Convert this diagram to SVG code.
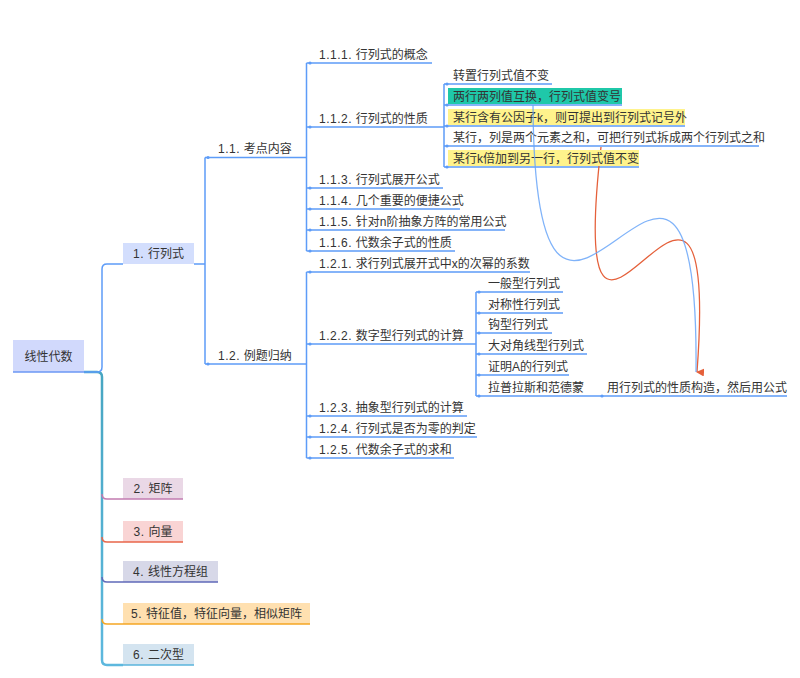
<svg xmlns="http://www.w3.org/2000/svg" width="800" height="678" viewBox="0 0 800 678">
<defs>
<style>
text{font-family:"Liberation Sans","Noto Sans CJK SC",sans-serif;font-size:12px;fill:#333;}
.n{letter-spacing:0.5px;}
.b{fill:none;stroke:#5d9cf8;stroke-width:1.5;}
.m{fill:#5d9cf8;}
.c{text-anchor:middle;}
</style>
<linearGradient id="trunk" x1="0" y1="0" x2="0" y2="1">
<stop offset="0" stop-color="#47a6c2"/>
<stop offset="1" stop-color="#5db8de"/>
</linearGradient>
<marker id="arrO" markerWidth="8" markerHeight="8" refX="4" refY="7" orient="auto" markerUnits="userSpaceOnUse" viewBox="0 0 8 8">
<path d="M0,0 L8,0 L4,8 Z" fill="#e5603a"/>
</marker>
</defs>
<rect width="800" height="678" fill="#fff"/>

<g id="connectors">
<path d="M84,372 H97 Q102,372 102,377 V660 Q102,665 107,665 H123" fill="none" stroke="url(#trunk)" stroke-width="2.5"/>
<path d="M102,494 Q102,499 107,499 H123" fill="none" stroke="#c27bb0" stroke-width="1.5"/>
<path d="M102,537 Q102,542 107,542 H123" fill="none" stroke="#e8664a" stroke-width="1.5"/>
<path d="M102,577 Q102,582 107,582 H123" fill="none" stroke="#5f69b9" stroke-width="1.5"/>
<path d="M102,619 Q102,624 107,624 H123" fill="none" stroke="#f5a623" stroke-width="1.5"/>
<path d="M84,372 H97 Q102,372 102,367 V269 Q102,264 107,264 H123" class="b" stroke-width="2"/>
<path class="b" d="M194,264 H205 M205,157.5 V364 M205,157.5 H306.5 M205,364 H306.5"/>
<path class="b" d="M306.5,63 V251 M306.5,63 H432 M306.5,127 H444 M306.5,188 H443 M306.5,209 H460 M306.5,230 H505 M306.5,251 H455"/>
<path class="b" d="M444,84 V167 M444,84 H552 M444,105 H622 M444,126 H685 M444,146 H759 M444,167 H639"/>
<path class="b" d="M306.5,272 V458 M306.5,272 H530 M306.5,344 H476 M306.5,416 H467 M306.5,437 H477 M306.5,458 H454"/>
<path class="b" d="M476,292 V396 M476,292 H563 M476,313 H563 M476,333 H552 M476,354 H587 M476,375 H569 M476,396 H787"/>
<g class="m">
<circle cx="208" cy="157.5" r="1.6"/><circle cx="208" cy="364" r="1.6"/>
<circle cx="310" cy="63" r="1.6"/><circle cx="310" cy="127" r="1.6"/><circle cx="310" cy="188" r="1.6"/><circle cx="310" cy="209" r="1.6"/><circle cx="310" cy="230" r="1.6"/><circle cx="310" cy="251" r="1.6"/>
<circle cx="447" cy="84" r="1.6"/><circle cx="447" cy="105" r="1.6"/><circle cx="447" cy="126" r="1.6"/><circle cx="447" cy="146" r="1.6"/><circle cx="447" cy="167" r="1.6"/>
<circle cx="310" cy="272" r="1.6"/><circle cx="310" cy="344" r="1.6"/><circle cx="310" cy="416" r="1.6"/><circle cx="310" cy="437" r="1.6"/><circle cx="310" cy="458" r="1.6"/>
<circle cx="479" cy="292" r="1.6"/><circle cx="479" cy="313" r="1.6"/><circle cx="479" cy="333" r="1.6"/><circle cx="479" cy="354" r="1.6"/><circle cx="479" cy="375" r="1.6"/><circle cx="479" cy="396" r="1.6"/>
<circle cx="602" cy="396" r="1.6"/>
</g>
<path id="rel-orange" d="M601,147 C563,480 722,40 697,372" fill="none" stroke="#e5603a" stroke-width="1.3" marker-end="url(#arrO)"/>
</g>

<g id="root"><rect x="13" y="340" width="71" height="32" fill="#d1d9fc"/><path d="M13,372 H84" stroke="#6b97f5" stroke-width="1.5"/><text class="c" x="48.5" y="361">线性代数</text></g>
<g id="n1"><rect x="123" y="243" width="71" height="21" fill="#d3defd"/><text class="c" x="158.5" y="258"><tspan class="n">1. </tspan>行列式</text></g>
<g id="n2"><rect x="123" y="478" width="60" height="21" fill="#ead8e6"/><path d="M123,499 H183" stroke="#c27bb0" stroke-width="1.5"/><text class="c" x="153" y="493"><tspan class="n">2. </tspan>矩阵</text></g>
<g id="n3"><rect x="123" y="521" width="60" height="21" fill="#f9d4d4"/><path d="M123,542 H183" stroke="#e8664a" stroke-width="1.5"/><text class="c" x="153" y="536"><tspan class="n">3. </tspan>向量</text></g>
<g id="n4"><rect x="123" y="561" width="95" height="21" fill="#d7d8e8"/><path d="M123,582 H218" stroke="#5f69b9" stroke-width="1.5"/><text class="c" x="170.5" y="576"><tspan class="n">4. </tspan>线性方程组</text></g>
<g id="n5"><rect x="123" y="603" width="187" height="21" fill="#ffe0b0"/><path d="M123,624 H310" stroke="#f5a623" stroke-width="1.5"/><text class="c" x="216.5" y="618"><tspan class="n">5. </tspan>特征值，特征向量，相似矩阵</text></g>
<g id="n6"><rect x="123" y="644" width="71" height="21" fill="#d4e4f0"/><path d="M123,665 H194" stroke="#5ab4dc" stroke-width="1.5"/><text class="c" x="158.5" y="659"><tspan class="n">6. </tspan>二次型</text></g>

<g id="n11"><text x="218" y="153"><tspan class="n">1.1. </tspan>考点内容</text></g>
<g id="n12"><text x="218" y="360"><tspan class="n">1.2. </tspan>例题归纳</text></g>

<g id="n111"><text x="319" y="59"><tspan class="n">1.1.1. </tspan>行列式的概念</text></g>
<g id="n112"><text x="319" y="123"><tspan class="n">1.1.2. </tspan>行列式的性质</text></g>
<g id="n113"><text x="319" y="184"><tspan class="n">1.1.3. </tspan>行列式展开公式</text></g>
<g id="n114"><text x="319" y="205"><tspan class="n">1.1.4. </tspan>几个重要的便捷公式</text></g>
<g id="n115"><text x="319" y="226"><tspan class="n">1.1.5. </tspan>针对n阶抽象方阵的常用公式</text></g>
<g id="n116"><text x="319" y="247"><tspan class="n">1.1.6. </tspan>代数余子式的性质</text></g>

<g id="p1"><text x="453" y="80">转置行列式值不变</text></g>
<g id="p2"><rect x="448" y="88" width="174" height="16" fill="#1fc8a9"/><text x="453" y="101">两行两列值互换，行列式值变号</text></g>
<g id="p3"><rect x="448" y="109" width="237" height="16" fill="#fff38c"/><text x="453" y="122">某行含有公因子k，则可提出到行列式记号外</text></g>
<g id="p4"><text x="453" y="142">某行，列是两个元素之和，可把行列式拆成两个行列式之和</text></g>
<g id="p5"><rect x="448" y="150" width="191" height="16" fill="#fff38c"/><text x="453" y="163">某行k倍加到另一行，行列式值不变</text></g>

<g id="n121"><text x="319" y="268"><tspan class="n">1.2.1. </tspan>求行列式展开式中x的次幂的系数</text></g>
<g id="n122"><text x="319" y="340"><tspan class="n">1.2.2. </tspan>数字型行列式的计算</text></g>
<g id="n123"><text x="319" y="412"><tspan class="n">1.2.3. </tspan>抽象型行列式的计算</text></g>
<g id="n124"><text x="319" y="433"><tspan class="n">1.2.4. </tspan>行列式是否为零的判定</text></g>
<g id="n125"><text x="319" y="454"><tspan class="n">1.2.5. </tspan>代数余子式的求和</text></g>

<g id="q1"><text x="488" y="288">一般型行列式</text></g>
<g id="q2"><text x="488" y="309">对称性行列式</text></g>
<g id="q3"><text x="488" y="329">钩型行列式</text></g>
<g id="q4"><text x="488" y="350">大对角线型行列式</text></g>
<g id="q5"><text x="488" y="371">证明A的行列式</text></g>
<g id="q6"><text x="488" y="392">拉普拉斯和范德蒙</text></g>
<g id="q61"><text x="607" y="392">用行列式的性质构造，然后用公式</text></g>

<g id="relations">
<path id="rel-blue" d="M533,105 C535,490 700,-10 696,372" fill="none" stroke="#6aa6f8" stroke-width="1.3" opacity="0.85"/>
</g>
</svg>
